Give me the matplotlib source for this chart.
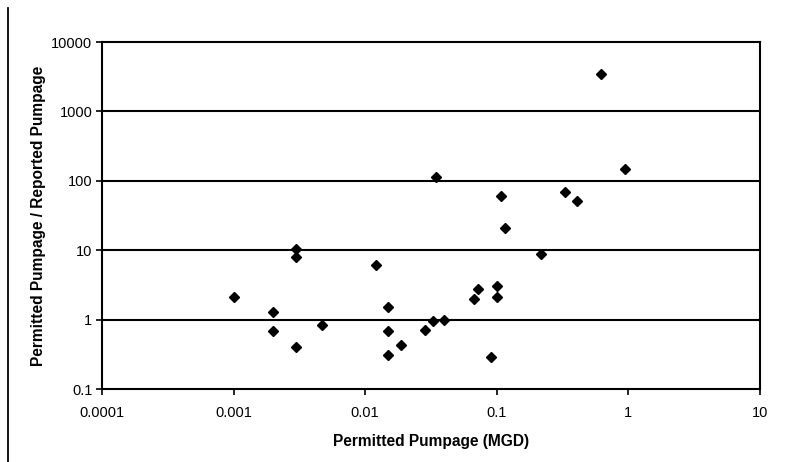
import matplotlib
matplotlib.use("Agg")
import matplotlib.pyplot as plt
from matplotlib.lines import Line2D

plt.rcParams['font.family'] = ['Liberation Sans', 'DejaVu Sans']

# Permitted pumpage (MGD) and ratio of permitted to reported pumpage
permitted_mgd = [0.001, 0.002, 0.002, 0.003, 0.003, 0.003, 0.0047, 0.012,
                 0.015, 0.015, 0.015, 0.0186, 0.0285, 0.033, 0.0345, 0.04,
                 0.067, 0.072, 0.09, 0.1, 0.1, 0.108, 0.115, 0.217,
                 0.33, 0.41, 0.62, 0.94]
ratio = [2.1, 1.3, 0.68, 10.4, 7.9, 0.40, 0.85, 6.2,
         1.5, 0.68, 0.31, 0.43, 0.71, 0.94, 115, 0.98,
         2.0, 2.8, 0.29, 3.1, 2.1, 60, 21, 8.8,
         68, 52, 3450, 148]

x_ticks = [0.0001, 0.001, 0.01, 0.1, 1, 10]
x_tick_labels = ['0.0001', '0.001', '0.01', '0.1', '1', '10']
y_ticks = [0.1, 1, 10, 100, 1000, 10000]
y_tick_labels = ['0.1', '1', '10', '100', '1000', '10000']

fig = plt.figure(figsize=(7.85, 4.62), dpi=100)
ax = fig.add_axes([0.130, 0.158, 0.838, 0.751])

ax.set_xscale('log')
ax.set_yscale('log')
ax.set_xlim(0.0001, 10)
ax.set_ylim(0.1, 10000)

for yv in y_ticks[1:-1]:
    ax.axhline(yv, color='black', lw=1.5, zorder=1)

ax.plot(permitted_mgd, ratio, linestyle='none', marker='D', ms=5.5,
        color='black', zorder=3)

ax.set_xticks(x_ticks)
ax.set_xticklabels(x_tick_labels)
ax.set_yticks(y_ticks)
ax.set_yticklabels(y_tick_labels)
ax.minorticks_off()
ax.tick_params(axis='both', direction='out', length=4, width=1.2,
               labelsize=10.5, colors='black', pad=3)
ax.tick_params(axis='x', pad=8)

for s in ax.spines.values():
    s.set_linewidth(1.5)
    s.set_color('black')

ax.set_xlabel('Permitted Pumpage (MGD)', fontsize=11.2, fontweight='bold',
              labelpad=10)
ax.set_ylabel('Permitted Pumpage / Reported Pumpage', fontsize=11.2,
              fontweight='bold', labelpad=4)

# page edge rule on the left
fig.add_artist(Line2D([8 / 785, 8 / 785], [0, 1 - 8 / 462],
                      transform=fig.transFigure, color='black', lw=1.3))

fig.savefig('out.png', dpi=100)
